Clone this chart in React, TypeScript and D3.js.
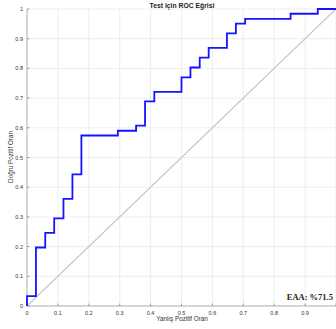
import React from "react";
import * as d3 from "d3";

const fprValues = [0, 0, 0.029, 0.029, 0.059, 0.059, 0.088, 0.088, 0.118, 0.118, 0.147, 0.147, 0.176, 0.176, 0.294, 0.294, 0.353, 0.353, 0.382, 0.382, 0.412, 0.412, 0.5, 0.5, 0.529, 0.529, 0.559, 0.559, 0.588, 0.588, 0.647, 0.647, 0.676, 0.676, 0.706, 0.706, 0.853, 0.853, 0.941, 0.941, 1];
const tprValues = [0, 0.033, 0.033, 0.197, 0.197, 0.246, 0.246, 0.295, 0.295, 0.361, 0.361, 0.443, 0.443, 0.574, 0.574, 0.59, 0.59, 0.607, 0.607, 0.689, 0.689, 0.721, 0.721, 0.77, 0.77, 0.803, 0.803, 0.836, 0.836, 0.869, 0.869, 0.918, 0.918, 0.951, 0.951, 0.967, 0.967, 0.984, 0.984, 1, 1];
const tickValues = [0, 0.1, 0.2, 0.3, 0.4, 0.5, 0.6, 0.7, 0.8, 0.9, 1];
const yTickLabels = ["0", "0.1", "0.2", "0.3", "0.4", "0.5", "0.6", "0.7", "0.8", "0.9", "1"];
const xTickLabels = ["0", "0.1", "0.2", "0.3", "0.4", "0.5", "0.6", "0.7", "0.8", "0.9", ""];
const titleText = "Test için ROC Eğrisi";
const xLabel = "Yanlış Pozitif Oran";
const yLabel = "Doğru Pozitif Oran";
const aucText = "EAA: %71.5";

export default function App() {
  const W = 336, H = 329;
  const x = d3.scaleLinear().domain([0, 1]).range([27, 336]);
  const y = d3.scaleLinear().domain([0, 1]).range([306, 9]);
  const pts: [number, number][] = fprValues.map((f, i) => [f, tprValues[i]]);
  const line = d3.line<[number, number]>().x(d => x(d[0])).y(d => y(d[1]));
  const font = "Liberation Sans, Arial, sans-serif";
  return (
    <svg width={W} height={H} style={{ position: "absolute", left: 0, top: 0, background: "#fff" }}>
      <rect x={0} y={0} width={W} height={H} fill="#fff" />
      {tickValues.map((t, i) => (
        <g key={"g" + i}>
          <line x1={x(t)} x2={x(t)} y1={y(0)} y2={y(1)} stroke="#e6e6e6" strokeWidth={0.7} />
          <line x1={x(0)} x2={x(1)} y1={y(t)} y2={y(t)} stroke="#e6e6e6" strokeWidth={0.7} />
        </g>
      ))}
      <line x1={x(0)} x2={x(0)} y1={y(0)} y2={y(1)} stroke="#8c8c8c" strokeWidth={0.6} />
      <line x1={x(0)} x2={x(1)} y1={y(0)} y2={y(0)} stroke="#8c8c8c" strokeWidth={0.6} />
      {tickValues.map((t, i) => (
        <g key={"t" + i}>
          <line x1={x(t)} x2={x(t)} y1={y(0)} y2={y(0) - 2.5} stroke="#555" strokeWidth={0.5} />
          <line x1={x(0)} x2={x(0) + 2.5} y1={y(t)} y2={y(t)} stroke="#555" strokeWidth={0.5} />
          {xTickLabels[i] && (
            <text x={x(t)} y={y(0) + 9} fontSize={5.5} fontFamily={font} fill="#333" textAnchor="middle">{xTickLabels[i]}</text>
          )}
          <text x={x(0) - 4} y={y(t) + 2} fontSize={5.5} fontFamily={font} fill="#333" textAnchor="end">{yTickLabels[i]}</text>
        </g>
      ))}
      <line x1={x(0)} y1={y(0)} x2={x(1)} y2={y(1)} stroke="#c4c4c4" strokeWidth={1.1} />
      <path d={line(pts) || ""} fill="none" stroke="#1414ff" strokeWidth={1.8} />
      <text x={182} y={7.5} fontSize={6.8} fontWeight="bold" fontFamily={font} fill="#222" textAnchor="middle">{titleText}</text>
      <text x={182} y={321} fontSize={6.3} fontFamily={font} fill="#333" textAnchor="middle">{xLabel}</text>
      <text transform={`translate(13,157) rotate(-90)`} fontSize={6.3} fontFamily={font} fill="#333" textAnchor="middle">{yLabel}</text>
      <text x={333} y={300} fontSize={8.5} fontWeight="bold" fontFamily="Liberation Serif, Times New Roman, serif" fill="#222" textAnchor="end">{aucText}</text>
    </svg>
  );
}
